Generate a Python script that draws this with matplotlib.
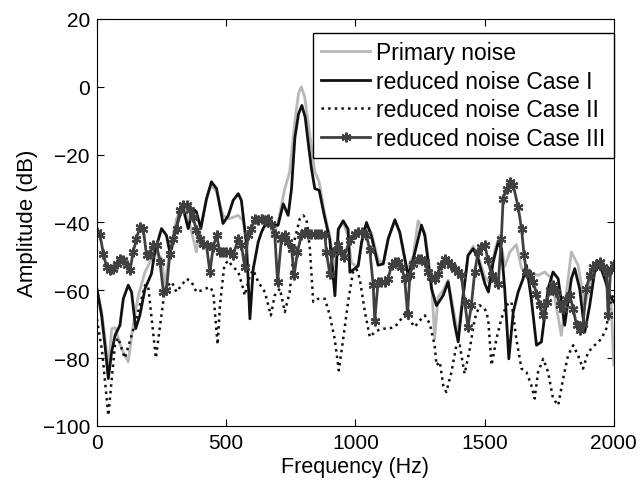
import numpy as np
import matplotlib
matplotlib.use("Agg")
import matplotlib.pyplot as plt

plt.rcParams['font.family'] = ['Liberation Sans', 'DejaVu Sans']

# ---------------------------- data ----------------------------
f_primary = [0, 18, 31, 44, 57, 70, 95, 121, 140, 160, 186, 205, 231, 250, 263, 282,
             308, 334, 360, 385, 398, 424, 443, 463, 488, 508, 527, 547, 566, 579,
             598, 637, 663, 682, 701, 727, 746, 766, 780, 791, 804, 820, 843, 860,
             880, 901, 921, 934, 953, 972, 985, 1011, 1024, 1043, 1062, 1088, 1108,
             1127, 1153, 1172, 1198, 1224, 1243, 1269, 1295, 1307, 1320, 1340, 1359,
             1385, 1398, 1410, 1436, 1456, 1475, 1501, 1520, 1540, 1559, 1578, 1598,
             1623, 1643, 1668, 1707, 1733, 1759, 1797, 1836, 1862, 1888, 1914, 1940,
             1978, 1990, 2000]
a_primary = [-60, -66, -74, -83, -71.3, -71, -77.2, -81.1, -70.3, -61.5, -54.6, -51.7,
             -48.7, -50.7, -58.5, -48.7, -38.9, -34.9, -40.8, -48.7, -42, -33, -29, -31,
             -37.9, -38.9, -38.5, -37.9, -39.5, -44.8, -40.8, -37.9, -38.9, -43.8,
             -39.9, -30, -25.1, -10, -2, 0, -3, -12, -25, -28, -37, -44, -55, -42, -40,
             -44, -52, -53, -46, -40.5, -43, -51, -52, -45, -39.5, -43, -54, -50, -39.5,
             -43, -58, -74.3, -62, -60, -57, -68, -73, -65, -50, -47, -50, -56, -58,
             -48, -43.8, -53, -48.7, -46.5, -53.5, -54.5, -55.6, -54.6, -56.5, -73.3,
             -48.7, -52.6, -64.4, -56.6, -51.7, -57.5, -64, -82]

f_case1 = [0, 18, 31, 44, 57, 70, 89, 102, 121, 134, 150, 166, 186, 211, 224, 250, 269,
           282, 289, 302, 321, 334, 353, 372, 385, 402, 424, 443, 463, 488, 508, 527,
           547, 559, 579, 592, 605, 624, 637, 650, 675, 701, 721, 740, 753, 766, 780,
           793, 806, 820, 830, 843, 860, 880, 901, 921, 934, 953, 972, 979, 1011, 1024,
           1043, 1062, 1088, 1108, 1127, 1153, 1172, 1204, 1224, 1256, 1269, 1295, 1314,
           1340, 1359, 1385, 1398, 1410, 1436, 1456, 1475, 1501, 1515, 1533, 1553, 1565,
           1578, 1594, 1611, 1630, 1649, 1662, 1681, 1701, 1720, 1746, 1765, 1785, 1810,
           1836, 1849, 1868, 1888, 1907, 1926, 1946, 1965, 1984, 2000]
a_case1 = [-59.5, -67.4, -76.2, -86, -78.2, -73.3, -70.3, -62.5, -58.5, -60.5, -71.3,
           -67.4, -59.5, -55.1, -48.7, -41.8, -43.8, -48.7, -47.7, -42.8, -37.9, -35.9,
           -41.8, -35.9, -36.9, -41.8, -33, -28, -30, -40.3, -38, -33.5, -31.5, -33.5,
           -46.7, -68.4, -53.6, -45.8, -42.8, -40.8, -40.8, -40.8, -34.5, -37.9, -30,
           -15, -8, -5.5, -9, -18, -24, -30, -30.5, -38, -45, -61.6, -42, -39.5, -42,
           -54.7, -52.8, -45.9, -40, -43.9, -52.6, -52.2, -44.8, -39.2, -42.9, -55.6,
           -50.8, -40.8, -43.9, -59.6, -64.5, -61.5, -57.5, -70.3, -75.2, -66.4, -49.7,
           -47.7, -50.7, -58, -60.5, -51.7, -45.8, -47.7, -59.5, -80.2, -66.4, -60.5,
           -56.6, -52.6, -62.5, -76.2, -75.2, -59.5, -54.6, -56.6, -70.3, -56.6, -53.6,
           -59.5, -72.3, -64.4, -54.6, -52.6, -56.6, -61.5, -63.4]

f_case2 = [0, 20, 44, 70, 82, 108, 147, 186, 198, 228, 263, 289, 308, 327, 347, 366,
           385, 405, 437, 450, 467, 476, 493, 508, 521, 547, 566, 572, 592, 605, 624,
           650, 673, 688, 708, 727, 746, 766, 785, 798, 811, 824, 837, 856, 882, 901,
           920, 936, 953, 972, 991, 1004, 1017, 1037, 1056, 1075, 1101, 1127, 1153, 1178,
           1191, 1211, 1230, 1249, 1269, 1288, 1307, 1314, 1327, 1340, 1352, 1372, 1391,
           1404, 1417, 1423, 1443, 1462, 1481, 1501, 1514, 1527, 1546, 1565, 1585, 1604,
           1623, 1643, 1662, 1681, 1694, 1707, 1727, 1746, 1765, 1785, 1804, 1823, 1843,
           1862, 1881, 1901, 1926, 1952, 1971, 1984, 2000]
a_case2 = [-68.5, -78, -96.9, -76, -74, -80, -70, -58.5, -58.5, -80, -59.5, -57.5,
           -60.5, -58.5, -56.6, -57.5, -60.5, -60, -59, -60.5, -76, -64.4, -52.6, -51.2,
           -52.6, -54.6, -59.5, -61.5, -55.6, -54, -57.5, -60.5, -67.4, -61.5, -59.5,
           -66.4, -60.5, -44.8, -38.9, -37.9, -38.9, -47.7, -63.4, -62.5, -62.5, -67.4,
           -74.3, -83.6, -74.3, -63.4, -54.6, -53.6, -56.6, -66.4, -73.8, -72.3, -71.3,
           -71.3, -70.8, -68.4, -66.9, -68.9, -70.8, -68.9, -67.4, -69.8, -76.2, -82.1,
           -81.1, -88, -90, -84.1, -76.2, -76.2, -82.1, -84.6, -77.2, -68.4, -64.4,
           -65.4, -68.4, -82.1, -74.3, -68.4, -64.4, -63.4, -74.3, -83.1, -84.1, -88,
           -91.9, -84.1, -80.2, -84.1, -91.9, -93.9, -86.1, -79.2, -76.2, -79.2, -83.1,
           -78.2, -76.2, -74.3, -71.3, -64.4, -61]

f_case3 = [0, 12, 25, 37, 50, 63, 76, 89, 102, 115, 128, 140, 153, 166, 179, 192, 205,
           218, 231, 244, 257, 269, 282, 295, 308, 321, 334, 347, 360, 372, 385, 398,
           411, 424, 437, 450, 463, 476, 488, 501, 514, 527, 547, 559, 572, 585, 598,
           611, 624, 637, 650, 663, 675, 688, 699, 714, 727, 740, 753, 763, 776, 791,
           804, 817, 830, 843, 856, 869, 882, 888, 901, 914, 931, 944, 956, 978, 998,
           1011, 1024, 1043, 1056, 1069, 1075, 1088, 1101, 1114, 1127, 1140, 1153, 1166,
           1178, 1191, 1202, 1211, 1224, 1243, 1256, 1269, 1282, 1294, 1307, 1320, 1333,
           1346, 1359, 1372, 1385, 1398, 1410, 1423, 1436, 1449, 1462, 1475, 1488, 1501,
           1514, 1527, 1540, 1553, 1565, 1572, 1585, 1598, 1611, 1630, 1643, 1653, 1662,
           1675, 1688, 1701, 1714, 1727, 1740, 1752, 1765, 1778, 1791, 1804, 1817, 1830,
           1843, 1856, 1868, 1881, 1894, 1907, 1920, 1933, 1946, 1959, 1972, 1978, 1988,
           2000]
a_case3 = [-42.8, -43.8, -49.2, -53.1, -54.1, -53.6, -52.1, -50.7, -51.2, -52.6, -54.1,
           -48.7, -44.8, -41.3, -41.8, -49.7, -49.2, -46.7, -46.7, -51.7, -60.5, -60,
           -49.2, -44.8, -41.8, -36.4, -34.9, -34.9, -36.4, -38.4, -42.3, -44.8, -46.2,
           -46.7, -54.6, -47.2, -43.8, -48.7, -48.7, -48.7, -48.7, -49.7, -44.8, -46.7,
           -53.1, -43.8, -41.8, -38.9, -39.4, -38.9, -39.4, -38.9, -40.3, -43.3, -57.5,
           -44.8, -43.8, -45.8, -47.7, -55.6, -48.7, -43.8, -42.8, -43.3, -43.3, -43.3,
           -43.3, -43.3, -43.8, -48.7, -55.1, -48.7, -46.7, -48.7, -50.2, -45.3, -43.3,
           -42.8, -42.8, -43.8, -48.2, -58.5, -68.9, -57.5, -57.5, -57.5, -56.6, -52.6,
           -51.7, -51.7, -53.1, -56.6, -66.9, -55.6, -52.1, -50.7, -50.7, -51.7, -54.6,
           -56.1, -56.6, -55.1, -52.6, -50.7, -51.7, -52.6, -53.6, -54.6, -55.6, -63.4,
           -70.8, -64.4, -54.6, -48.7, -47.2, -46.7, -51.2, -55.6, -56.6, -58, -44.8,
           -33, -30, -28, -29, -35.4, -41.8, -49.7, -54.6, -55.6, -57.5, -61, -64.4,
           -67.4, -63.4, -60, -58.5, -60.5, -64.4, -65.4, -62.5, -61.5, -65.4, -70.3,
           -71.8, -69.8, -59.5, -55.6, -53.1, -52.1, -51.7, -53.1, -54.6, -67.4, -53.6,
           -52.1]

labels = ['Primary noise', 'reduced noise Case I', 'reduced noise Case II',
          'reduced noise Case III']

# ---------------------------------- plotting ----------------------------------
fig = plt.figure(figsize=(6.42, 4.85), dpi=100)
ax = fig.add_axes([0.151, 0.1196, 0.805, 0.8392])

ax.plot(f_primary, a_primary, color='#b8b8b8', lw=2.0, label=labels[0])
ax.plot(f_case1, a_case1, color='#111111', lw=2.0, label=labels[1])
ax.plot(f_case2, a_case2, color='#111111', lw=1.8, ls=':', label=labels[2])
ax.plot(f_case3, a_case3, color='#404040', lw=2.0, marker=(6, 2, 0), ms=7,
        mew=1.6, label=labels[3])

ax.set_xlim(0, 2000)
ax.set_ylim(-100, 20)
ax.set_xticks([0, 500, 1000, 1500, 2000])
ax.set_yticks([-100, -80, -60, -40, -20, 0, 20])
ax.tick_params(direction='in', top=True, right=True, labelsize=15, length=5, pad=5)
ax.set_xlabel('Frequency (Hz)', fontsize=15.5, labelpad=3)
ax.set_ylabel('Amplitude (dB)', fontsize=16, labelpad=3)

leg = ax.legend(loc='upper right', bbox_to_anchor=(1.0, 0.966), borderaxespad=0,
                fontsize=16.5, fancybox=False, edgecolor='black', framealpha=1,
                handlelength=2.1, labelspacing=0.25, borderpad=0.35,
                handletextpad=0.3)
leg.get_frame().set_linewidth(1.0)

fig.savefig('out.png', dpi=100)
